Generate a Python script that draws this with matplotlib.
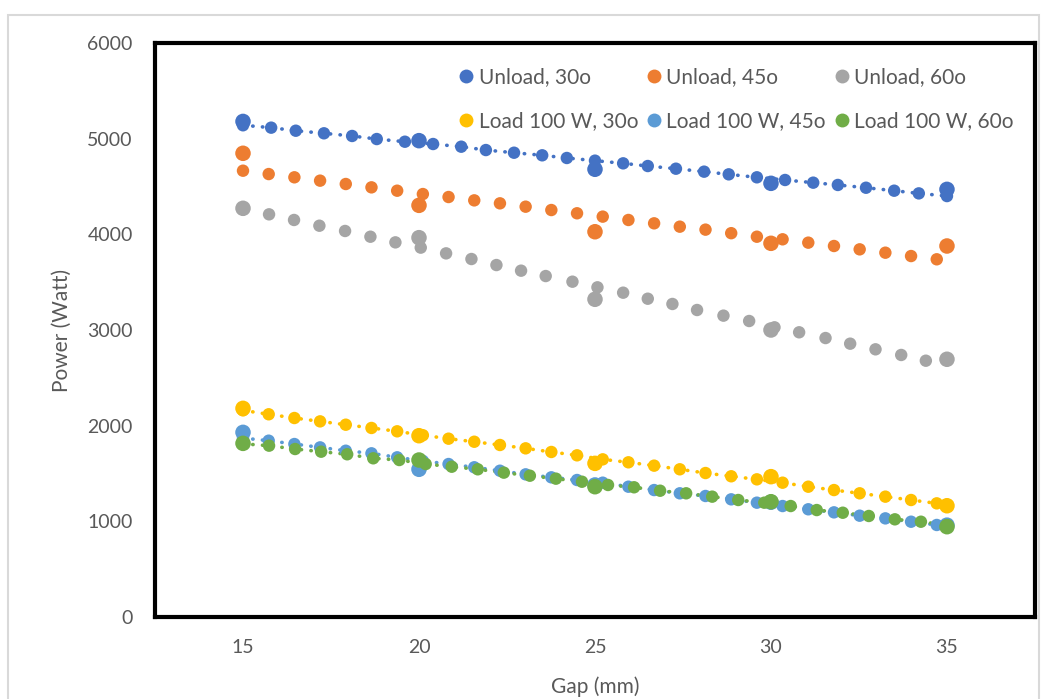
import matplotlib
matplotlib.use("Agg")
import matplotlib.pyplot as plt
from matplotlib.patches import Rectangle
from matplotlib.lines import Line2D

plt.rcParams['font.family'] = ['Lato', 'DejaVu Sans']

# measured points (big markers)
gap_meas = [15, 20, 25, 30, 35]

# Unload, 30o
u30_gap = [15.0, 15.8, 16.5, 17.3, 18.1, 18.8, 19.6, 20.4, 21.2, 21.9, 22.7, 23.5, 24.2, 25.0,
           25.8, 26.5, 27.3, 28.1, 28.8, 29.6, 30.4, 31.2, 31.9, 32.7, 33.5, 34.2, 35.0]
u30_sim = [5140, 5115, 5083, 5056, 5028, 4996, 4968, 4944, 4916, 4881, 4853, 4826, 4798, 4770,
           4742, 4714, 4686, 4655, 4627, 4596, 4568, 4540, 4516, 4487, 4456, 4428, 4400]
u30_meas = [5180, 4979, 4680, 4533, 4470]

# Unload, 45o
u45_gap = [15.0, 15.73, 16.46, 17.19, 17.92, 18.65, 19.38, 20.11, 20.84, 21.57, 22.30, 23.03, 23.76, 24.49,
           25.22, 25.95, 26.68, 27.41, 28.14, 28.87, 29.60, 30.33, 31.06, 31.79, 32.52, 33.25, 33.98, 34.71]
u45_sim = [4665, 4630, 4596, 4561, 4526, 4491, 4456, 4421, 4390, 4355, 4324, 4289, 4254, 4220,
           4185, 4150, 4115, 4080, 4049, 4012, 3975, 3948, 3913, 3878, 3843, 3808, 3773, 3739]
u45_meas = [4847, 4303, 4027, 3906, 3878]

# Unload, 60o
u60_gap = [15.0, 15.74, 16.45, 17.17, 17.90, 18.62, 19.33, 20.05, 20.77, 21.49, 22.20, 22.90, 23.60, 24.36,
           25.07, 25.80, 26.50, 27.20, 27.90, 28.65, 29.38, 30.10, 30.80, 31.55, 32.25, 32.97, 33.70, 34.40]
u60_sim = [4260, 4209, 4150, 4090, 4035, 3975, 3916, 3861, 3801, 3742, 3679, 3620, 3564, 3505,
           3446, 3390, 3327, 3272, 3209, 3150, 3094, 3028, 2976, 2916, 2857, 2798, 2739, 2679]
u60_meas = [4272, 3965, 3321, 3000, 2694]

# Load 100 W, 30o
l30_gap = [15.0, 15.73, 16.46, 17.19, 17.92, 18.65, 19.38, 20.11, 20.84, 21.57, 22.30, 23.03, 23.76, 24.49,
           25.22, 25.95, 26.68, 27.41, 28.14, 28.87, 29.60, 30.33, 31.06, 31.79, 32.52, 33.25, 33.98, 34.71]
l30_sim = [2160, 2119, 2080, 2045, 2010, 1976, 1941, 1900, 1864, 1832, 1798, 1763, 1725, 1690,
           1648, 1617, 1582, 1544, 1505, 1471, 1439, 1404, 1362, 1327, 1293, 1258, 1223, 1188]
l30_meas = [2181, 1895, 1606, 1467, 1163]

# Load 100 W, 45o
l45_gap = [15.0, 15.73, 16.46, 17.19, 17.92, 18.65, 19.38, 20.11, 20.84, 21.57, 22.30, 23.03, 23.76, 24.49,
           25.22, 25.95, 26.68, 27.41, 28.14, 28.87, 29.60, 30.33, 31.06, 31.79, 32.52, 33.25, 33.98, 34.71]
l45_sim = [1870, 1843, 1808, 1773, 1738, 1711, 1669, 1631, 1599, 1565, 1529, 1491, 1460, 1432,
           1404, 1362, 1327, 1293, 1265, 1230, 1195, 1160, 1126, 1094, 1059, 1031, 996, 962]
l45_meas = [1930, 1544, 1380, 1200, 960]

# Load 100 W, 60o
l60_gap = [15.00, 15.74, 16.48, 17.22, 17.96, 18.70, 19.44, 20.19, 20.93, 21.67, 22.41, 23.15, 23.89, 24.63,
           25.37, 26.11, 26.85, 27.59, 28.33, 29.07, 29.81, 30.56, 31.30, 32.04, 32.78, 33.52, 34.26, 35.00]
l60_sim = [1810, 1791, 1756, 1728, 1701, 1659, 1641, 1599, 1571, 1544, 1509, 1477, 1446, 1414,
           1380, 1356, 1320, 1293, 1258, 1223, 1195, 1160, 1118, 1090, 1056, 1021, 996, 960]
l60_meas = [1815, 1641, 1362, 1205, 944]

series = [
    ('Unload, 30o', '#4472C4', u30_gap, u30_sim, u30_meas, True),
    ('Unload, 45o', '#ED7D31', u45_gap, u45_sim, u45_meas, False),
    ('Unload, 60o', '#A5A5A5', u60_gap, u60_sim, u60_meas, False),
    ('Load 100 W, 30o', '#FFC000', l30_gap, l30_sim, l30_meas, True),
    ('Load 100 W, 45o', '#5B9BD5', l45_gap, l45_sim, l45_meas, True),
    ('Load 100 W, 60o', '#70AD47', l60_gap, l60_sim, l60_meas, True),
]

fig = plt.figure(figsize=(10.41, 6.99), dpi=100)
# light outer chart border
fig.patches.append(Rectangle((8 / 1041, -0.05), 1031 / 1041, 1.05 - 15 / 699,
                             transform=fig.transFigure, fill=False,
                             edgecolor='#D9D9D9', linewidth=1.5))

ax = fig.add_axes([0.1489, 0.1173, 0.8453, 0.8212])

handles = []
for name, col, gx, ys, ym, dotted in series:
    if dotted:
        ax.plot(gx, ys, color=col, linestyle=(0, (0.1, 2.6)), linewidth=2.6,
                dash_capstyle='round', zorder=2)
    ax.scatter(gx, ys, s=80, color=col, edgecolors='none', zorder=3)
    ax.scatter(gap_meas, ym, s=125, color=col, edgecolors='none', zorder=3)
    handles.append(Line2D([], [], linestyle='none', marker='o', markersize=10,
                          markerfacecolor=col, markeredgecolor='none', label=name))

ax.set_xlim(12.5, 37.5)
ax.set_ylim(0, 6000)
ax.set_xticks([15, 20, 25, 30, 35])
ax.set_yticks(range(0, 6001, 1000))
ax.tick_params(length=0, labelsize=14, labelcolor='#595959')
ax.tick_params(axis='x', pad=16)
ax.tick_params(axis='y', pad=16)
for sp in ax.spines.values():
    sp.set_linewidth(3)
    sp.set_color('black')

ax.set_xlabel('Gap (mm)', fontsize=15, color='#595959')
ax.set_ylabel('Power (Watt)', fontsize=15, color='#595959')
ax.xaxis.set_label_coords(0.5, -0.122)
ax.xaxis.label.set_va('center')
ax.yaxis.set_label_coords(-0.106, 0.5)
ax.yaxis.label.set_va('center')

# legend is filled row by row in the reference
order = [0, 3, 1, 4, 2, 5]
leg = ax.legend(handles=[handles[i] for i in order], ncol=3, loc='upper right',
                bbox_to_anchor=(0.997, 0.99),
                frameon=False, fontsize=15, handlelength=0.8, handletextpad=0.2,
                columnspacing=0.35, labelspacing=1.15, labelcolor='#595959')

fig.savefig('out.png', dpi=100)
